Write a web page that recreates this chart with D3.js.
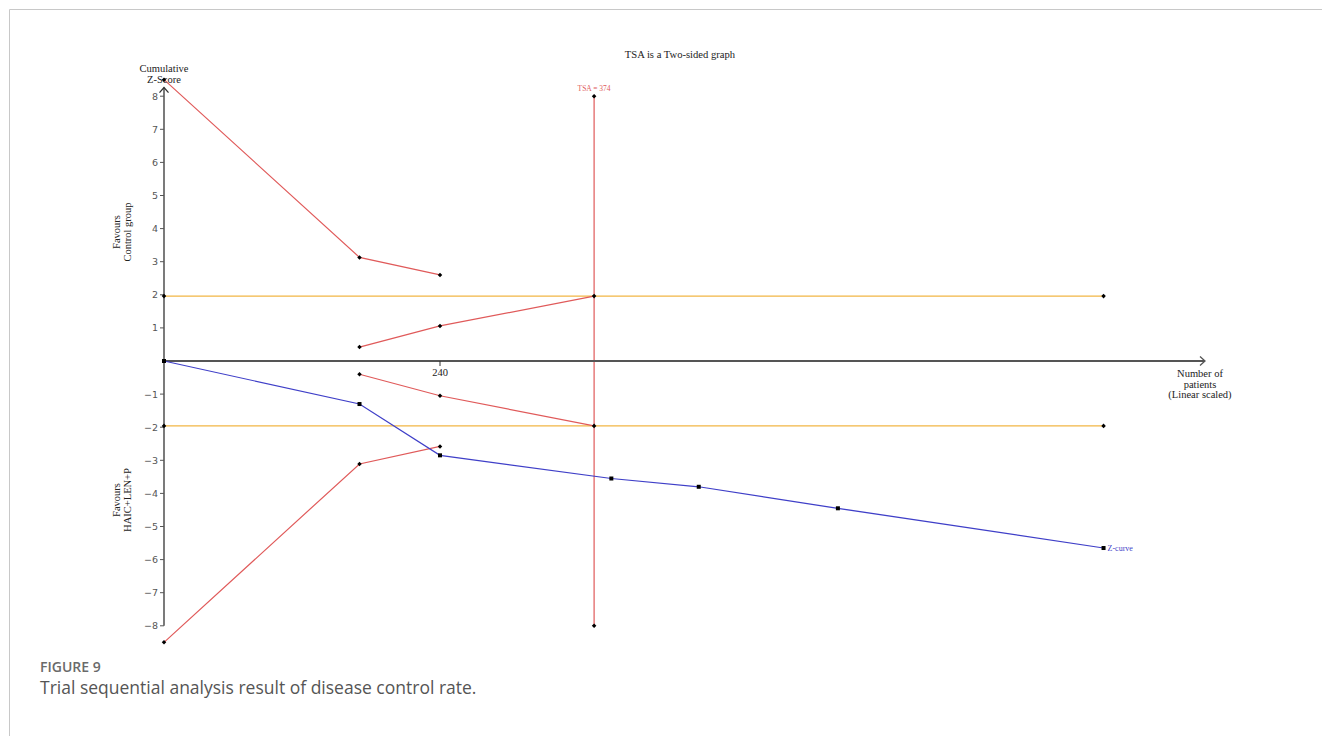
<!DOCTYPE html>
<html>
<head>
<meta charset="utf-8">
<script src="https://cdn.jsdelivr.net/npm/d3@7/dist/d3.min.js"></script>
<style>
  html, body { margin: 0; padding: 0; background: #fff; }
  svg { display: block; }
</style>
</head>
<body>
<svg id="chart" width="1322" height="736"></svg>
<script>
// Cumulative Z-curve (patients vs. Z-score)
const zPatients = [0, 170, 240, 389, 465, 586, 817];
const zScores   = [0, -1.3, -2.85, -3.55, -3.8, -4.45, -5.65];

// Trial sequential monitoring boundaries (benefit / harm)
const boundPatients = [0, 170, 240];
const boundUpper    = [8.5, 3.13, 2.6];
const boundLower    = [-8.5, -3.11, -2.58];

// Futility (inner wedge) boundaries
const futilityPatients = [170, 240, 374];
const futilityUpper    = [0.42, 1.06, 1.96];
const futilityLower    = [-0.4, -1.05, -1.96];

// Conventional significance boundaries
const conventionalZ = [1.96, -1.96];
const conventionalSpan = [0, 817];

// Required information size
const tsaSize = 374;
const tsaSpan = [-8, 8];

// Axis ticks
const yTicks = [-8, -7, -6, -5, -4, -3, -2, -1, 1, 2, 3, 4, 5, 6, 7, 8];
const xTicks = [240];

const svg = d3.select("#chart");
const serif = "'Liberation Serif', 'DejaVu Serif', serif";

const x = d3.scaleLinear().domain([0, 240]).range([164, 440]);
const y = d3.scaleLinear().domain([0, 8]).range([361, 96.2]);

const RED = "#e05a5a", ORANGE = "#f2b645", BLUE = "#3f3fc8", AXIS = "#333";

// Figure frame
svg.append("path")
  .attr("d", "M9.5,736 V9.5 H1322")
  .attr("fill", "none").attr("stroke", "#c8c8c8").attr("stroke-width", 1);

// Title
svg.append("text").attr("x", 680).attr("y", 58)
  .attr("text-anchor", "middle").attr("font-family", serif).attr("font-size", 10.6)
  .attr("fill", "#222").text("TSA is a Two-sided graph");

const line = d3.line().x(d => x(d[0])).y(d => y(d[1]));

// Conventional boundaries
conventionalZ.forEach(z => {
  const pts = conventionalSpan.map(p => [p, z]);
  svg.append("path").attr("d", line(pts)).attr("fill", "none")
    .attr("stroke", ORANGE).attr("stroke-width", 1.2);
});

// Monitoring boundaries
[boundUpper, boundLower].forEach(vals => {
  const pts = boundPatients.map((p, i) => [p, vals[i]]);
  svg.append("path").attr("d", line(pts)).attr("fill", "none")
    .attr("stroke", RED).attr("stroke-width", 1.2);
});
[futilityUpper, futilityLower].forEach(vals => {
  const pts = futilityPatients.map((p, i) => [p, vals[i]]);
  svg.append("path").attr("d", line(pts)).attr("fill", "none")
    .attr("stroke", RED).attr("stroke-width", 1.2);
});

// Required information size line
svg.append("path").attr("d", line(tsaSpan.map(z => [tsaSize, z])))
  .attr("fill", "none").attr("stroke", RED).attr("stroke-width", 1.2);
svg.append("text").attr("x", x(tsaSize)).attr("y", y(tsaSpan[1]) - 5)
  .attr("text-anchor", "middle").attr("font-family", serif).attr("font-size", 7.5)
  .attr("fill", RED).text("TSA = " + tsaSize);

// Y axis
svg.append("line").attr("x1", x(0)).attr("x2", x(0))
  .attr("y1", y(-8)).attr("y2", y(8.2) - 2)
  .attr("stroke", AXIS).attr("stroke-width", 1.3);
svg.append("path")
  .attr("d", `M${x(0) - 4.5},${y(8.2) + 3} L${x(0)},${y(8.2) - 2} L${x(0) + 4.5},${y(8.2) + 3}`)
  .attr("fill", "none").attr("stroke", AXIS).attr("stroke-width", 1.3);
const yt = svg.append("g");
yTicks.forEach(t => {
  yt.append("line").attr("x1", x(0) - 4).attr("x2", x(0))
    .attr("y1", y(t)).attr("y2", y(t)).attr("stroke", "#555").attr("stroke-width", 1);
  yt.append("text").attr("x", x(0) - 6).attr("y", y(t) + 3.5)
    .attr("text-anchor", "end").attr("font-family", "'DejaVu Sans', sans-serif")
    .attr("font-size", 9.5).attr("fill", "#555")
    .text(t < 0 ? "\u2212" + Math.abs(t) : t);
});

// X axis
const xEnd = 1205;
svg.append("line").attr("x1", x(0)).attr("x2", xEnd)
  .attr("y1", y(0)).attr("y2", y(0))
  .attr("stroke", "#555").attr("stroke-width", 1.8);
svg.append("path")
  .attr("d", `M${xEnd - 5},${y(0) - 4.5} L${xEnd},${y(0)} L${xEnd - 5},${y(0) + 4.5}`)
  .attr("fill", "none").attr("stroke", "#555").attr("stroke-width", 1.3);
xTicks.forEach(t => {
  svg.append("line").attr("x1", x(t)).attr("x2", x(t))
    .attr("y1", y(0)).attr("y2", y(0) + 5).attr("stroke", "#333").attr("stroke-width", 1);
  svg.append("text").attr("x", x(t)).attr("y", y(0) + 15)
    .attr("text-anchor", "middle").attr("font-family", serif).attr("font-size", 10.5)
    .attr("fill", "#222").text(t);
});

// Axis titles
const yTitle = svg.append("text").attr("text-anchor", "middle")
  .attr("font-family", serif).attr("font-size", 10.5).attr("fill", "#222");
yTitle.append("tspan").attr("x", x(0)).attr("y", 72).text("Cumulative");
yTitle.append("tspan").attr("x", x(0)).attr("y", 83).text("Z-Score");

const xTitle = svg.append("text").attr("text-anchor", "middle")
  .attr("font-family", serif).attr("font-size", 10.5).attr("fill", "#222");
["Number of", "patients", "(Linear scaled)"].forEach((s, i) => {
  xTitle.append("tspan").attr("x", 1200).attr("y", 377 + i * 10.5).text(s);
});

function sideLabel(cy, lines) {
  const t = svg.append("text").attr("text-anchor", "middle")
    .attr("font-family", serif).attr("font-size", 10.5).attr("fill", "#222")
    .attr("transform", `translate(123,${cy}) rotate(-90)`);
  lines.forEach((s, i) => t.append("tspan").attr("x", 0).attr("y", -3 + i * 11).text(s));
}
sideLabel(232, ["Favours", "Control group"]);
sideLabel(500, ["Favours", "HAIC+LEN+P"]);

// Z-curve
const zPts = zPatients.map((p, i) => [p, zScores[i]]);
svg.append("path").attr("d", line(zPts)).attr("fill", "none")
  .attr("stroke", BLUE).attr("stroke-width", 1.2);
svg.selectAll(".zpt").data(zPts).enter().append("rect")
  .attr("x", d => x(d[0]) - 2).attr("y", d => y(d[1]) - 2)
  .attr("width", 4).attr("height", 4).attr("fill", "#000");
const last = zPts[zPts.length - 1];
svg.append("text").attr("x", x(last[0]) + 4).attr("y", y(last[1]) + 3)
  .attr("font-family", serif).attr("font-size", 8).attr("fill", BLUE).text("Z-curve");

// Boundary markers
const markers = [];
boundPatients.forEach((p, i) => { markers.push([p, boundUpper[i]], [p, boundLower[i]]); });
futilityPatients.forEach((p, i) => { markers.push([p, futilityUpper[i]], [p, futilityLower[i]]); });
conventionalZ.forEach(z => conventionalSpan.forEach(p => markers.push([p, z])));
tsaSpan.forEach(z => markers.push([tsaSize, z]));
svg.selectAll(".mk").data(markers).enter().append("rect")
  .attr("x", d => x(d[0]) - 1.6).attr("y", d => y(d[1]) - 1.6)
  .attr("width", 3.2).attr("height", 3.2).attr("fill", "#000")
  .attr("transform", d => `rotate(45,${x(d[0])},${y(d[1])})`);

// Caption
svg.append("text").attr("x", 40).attr("y", 672)
  .attr("font-family", "'Open Sans', sans-serif").attr("font-size", 14)
  .attr("font-weight", 600).attr("fill", "#6a6a6a").text("FIGURE 9");
svg.append("text").attr("x", 40).attr("y", 694)
  .attr("font-family", "'Open Sans', sans-serif").attr("font-size", 17.5)
  .attr("fill", "#555").text("Trial sequential analysis result of disease control rate.");
</script>
</body>
</html>
